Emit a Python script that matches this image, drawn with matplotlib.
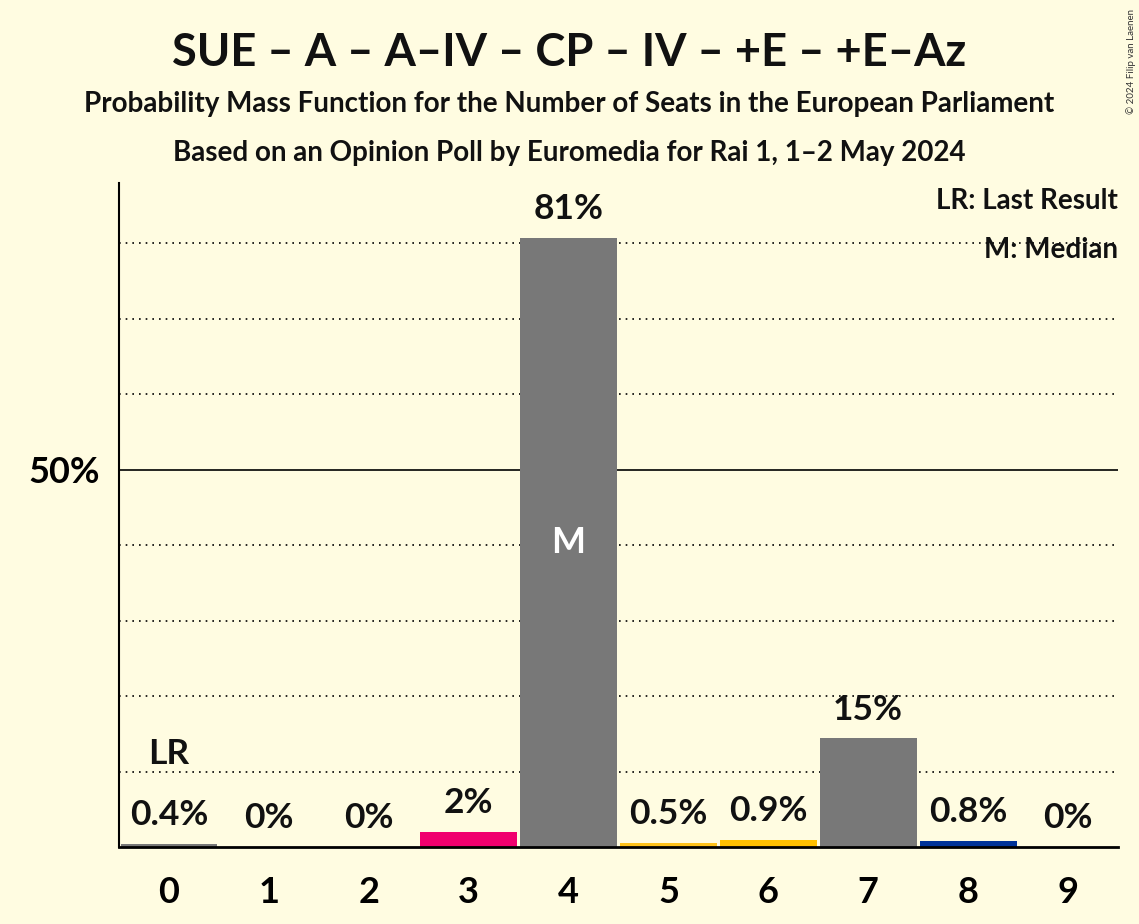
import matplotlib.pyplot as plt

seats = [0, 1, 2, 3, 4, 5, 6, 7, 8, 9]
probs = [0.4, 0, 0, 2.0, 80.7, 0.5, 0.9, 14.4, 0.8, 0]
labels = ["0.4%", "0%", "0%", "2%", "81%", "0.5%", "0.9%", "15%", "0.8%", "0%"]
colors = ["#787878", "#787878", "#787878", "#F0006E", "#787878",
          "#FFC21A", "#FFC000", "#787878", "#003399", "#787878"]
last_result = 0
median = 4

bg = "#FFFCE1"
plt.rcParams['font.family'] = ['Lato', 'DejaVu Sans']

fig = plt.figure(figsize=(11.39, 9.24), dpi=100, facecolor=bg)
ax = fig.add_axes([0.1045, 0.0833, 0.877, 0.7187], facecolor=bg)

for g in [10, 20, 30, 40, 60, 70, 80]:
    ax.axhline(g, color="black", linestyle=(0, (1, 3)), linewidth=1.2, zorder=1)
ax.axhline(50, color="black", linewidth=1.2, zorder=1)

ax.bar(seats, probs, width=0.97, color=colors, zorder=2)

for x, p, lab in zip(seats, probs, labels):
    ax.text(x, max(p, 0) + 1.7, lab, ha="center", va="bottom",
            fontsize=25.5, fontweight="bold", color="#111111", zorder=3)

ax.text(last_result, 10.2, "LR", ha="center", va="bottom", fontsize=25.5,
        fontweight="bold", color="#111111", zorder=3)
ax.text(median, probs[median] / 2, "M", ha="center", va="center", fontsize=26,
        fontweight="bold", color="white", zorder=3)

ax.set_xlim(-0.5, 9.5)
ax.set_ylim(0, 88)
ax.set_xticks(seats)
ax.set_xticklabels([str(s) for s in seats], fontsize=26, fontweight="bold")
ax.set_yticks([50])
ax.set_yticklabels(["50%"], fontsize=26, fontweight="bold")
ax.tick_params(axis="x", length=0, pad=21)
ax.tick_params(axis="y", length=0, pad=14)
for s in ["top", "right"]:
    ax.spines[s].set_visible(False)
ax.spines["left"].set_linewidth(1.5)
ax.spines["bottom"].set_linewidth(2)

ax.text(1.0, 0.992, "LR: Last Result", transform=ax.transAxes, ha="right", va="top",
        fontsize=20, fontweight="bold", color="#111111")
ax.text(1.0, 0.919, "M: Median", transform=ax.transAxes, ha="right", va="top",
        fontsize=20, fontweight="bold", color="#111111")

fig.text(0.5, 0.943, "SUE – A – A–IV – CP – IV – +E – +E–Az", ha="center", va="center",
         fontsize=32.6, fontweight="bold", color="#111111")
fig.text(0.5, 0.887, "Probability Mass Function for the Number of Seats in the European Parliament",
         ha="center", va="center", fontsize=20, fontweight="bold", color="#111111")
fig.text(0.5, 0.834, "Based on an Opinion Poll by Euromedia for Rai 1, 1–2 May 2024",
         ha="center", va="center", fontsize=20, fontweight="bold", color="#111111")
fig.text(0.993, 0.99, "© 2024 Filip van Laenen", rotation=90, ha="center", va="top",
         fontsize=7, color="#333333")

fig.savefig("out.png", dpi=100, facecolor=bg)
